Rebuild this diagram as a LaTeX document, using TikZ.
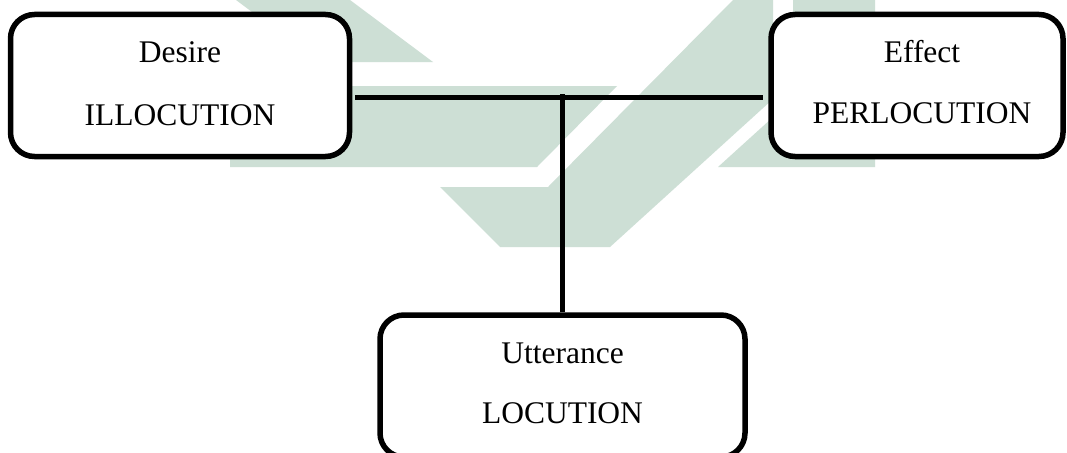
\documentclass[tikz,border=0pt]{standalone}
\usepackage{fontspec}
\setmainfont{Liberation Serif}
\usetikzlibrary{calc}
\definecolor{markgreen}{RGB}{205,223,213}
\begin{document}
\begin{tikzpicture}[x=1pt,y=-1pt,
  box/.style={draw=black, line width=5.5pt, rounded corners=24pt, fill=white,
    inner sep=0pt, minimum height=142pt},
  lbl/.style={font=\fontsize{31.5}{38}\selectfont, anchor=base, inner sep=0pt},
  link/.style={draw=black, line width=5.5pt}]
\useasboundingbox (0,0) rectangle (1067,452);
\clip (0,0) rectangle (1067,452);
\fill[white] (0,0) rectangle (1067,452);

% faint background emblem
\fill[markgreen] (236,0) -- (350,0) -- (433,62) -- (319,62) -- cycle;
\fill[markgreen] (230,86) -- (617,86) -- (537,167) -- (230,167) -- cycle;
\fill[markgreen] (440,187) -- (548,187) -- (733,0) -- (773,0) -- (773,99)
  -- (610,247) -- (500,247) -- cycle;
\fill[markgreen] (793,0) -- (875,0) -- (875,167) -- (718,167) -- (793,99) -- cycle;

% the three boxes
\node[box, minimum width=339pt] (ill) at (180,85.5) {};
\node[box, minimum width=292pt] (per) at (917,85.5) {};
\node[box, minimum width=365pt] (loc) at (562.5,386) {};

% box texts
\node[lbl] (illa) at ($(ill.north)+(0,51.25)$) {Desire};
\node[lbl] (illb) at ($(ill.north)+(0,113.25)$) {ILLOCUTION};
\node[lbl] (pera) at ($(per.north)+(5,51.25)$) {Effect};
\node[lbl] (perb) at ($(per.north)+(5,111.25)$) {PERLOCUTION};
\node[lbl] (loca) at ($(loc.north)+(0,50.75)$) {Utterance};
\node[lbl] (locb) at ($(loc.north)+(0,110.75)$) {LOCUTION};

% connectors
\draw[link] ($(ill.east)+(3,12)$) coordinate (hl) -- ($(per.west)+(-5,12)$) coordinate (hr);
\draw[link] (loc.north) -- ($(loc.north |- hl)+(0,-3.5)$) coordinate (top);
\end{tikzpicture}
\end{document}
